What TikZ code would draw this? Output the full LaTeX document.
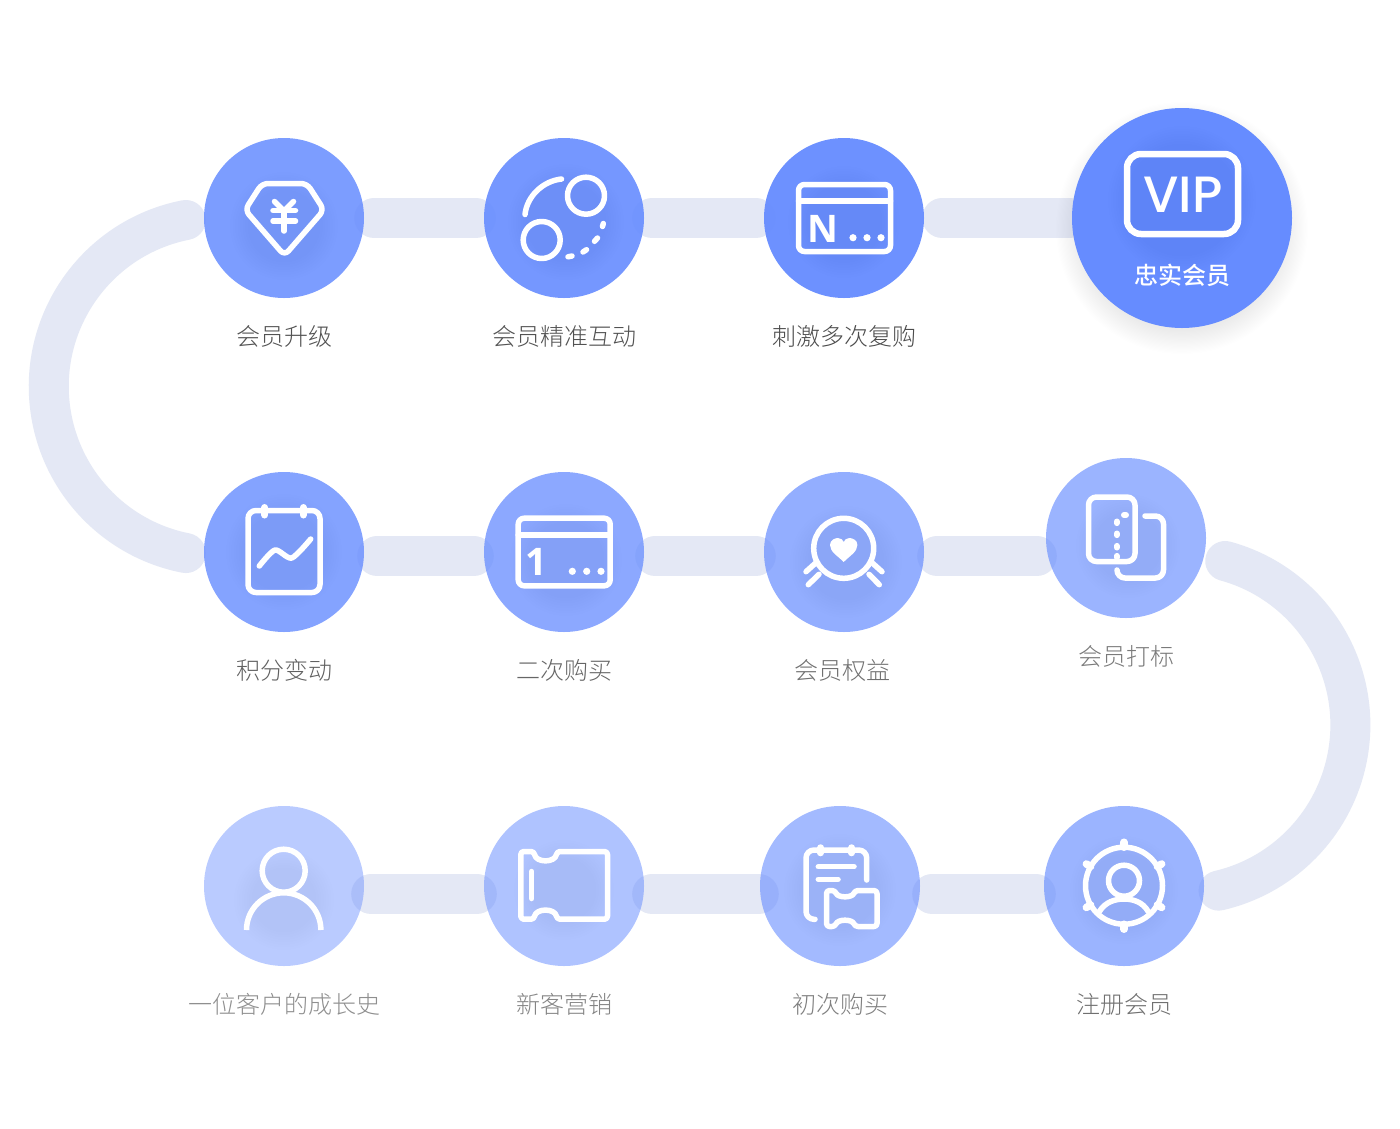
\documentclass[tikz,border=0pt]{standalone}
\usepackage{fontspec}
\usetikzlibrary{backgrounds,calc}
\newfontfamily\cjk[UprightFont={* Light},BoldFont={* Medium}]{Noto Sans CJK SC}
\newfontfamily\vipfont[UprightFont={* Medium}]{Poppins}
\newfontfamily\markfont[BoldFont={* Bold}]{Open Sans}
\definecolor{brandblue}{HTML}{668CFF}
\definecolor{trackgrey}{HTML}{E4E8F5}
\definecolor{softshadow}{HTML}{3A4470}
\tikzset{
  x=1pt,y=1pt,
  stage/.style={circle,fill=brandblue,minimum size=160pt,inner sep=0pt},
  trackline/.style={line width=40pt,draw=trackgrey,line cap=round},
  glyph/.style={draw=white,line width=5.5pt,line cap=round,line join=round},
  caption/.style={font=\cjk\fontsize{24}{28}\selectfont,inner sep=0pt},
  shade layer/.style={fill=brandblue!70!black,fill opacity=.0025,draw=none},
}
\newcommand{\iconshade}[3]{\foreach \k in {0,1,...,7}{\fill[shade layer] (#1,-#2) circle ({#3-\k*2.5});}}
\begin{document}
\begin{tikzpicture}
\useasboundingbox (0,0) rectangle (1400,-1128);
% stages
\node[stage,minimum size=220pt] (vip) at (1182,-218) {};
\node[stage,fill opacity=.95] (s10) at (844,-218) {};
\node[stage,fill opacity=.90] (s9) at (564,-218) {};
\node[stage,fill opacity=.85] (s8) at (284,-218) {};
\node[stage,fill opacity=.80] (s7) at (284,-552) {};
\node[stage,fill opacity=.75] (s6) at (564,-552) {};
\node[stage,fill opacity=.70] (s5) at (844,-552) {};
\node[stage,fill opacity=.65] (s4) at (1126,-538) {};
\node[stage,fill opacity=.65] (s3) at (1124,-886) {};
\node[stage,fill opacity=.60] (s2) at (840,-886) {};
\node[stage,fill opacity=.52] (s1) at (564,-886) {};
\node[stage,fill opacity=.45] (s0) at (284,-886) {};
% track behind
\begin{scope}[on background layer]
\fill[white] (0,0) rectangle (1400,-1128);
\draw[trackline] ([xshift=10pt]s8.east) -- ([xshift=-8pt]s9.west);
\draw[trackline] ([xshift=8pt]s9.east) -- ([xshift=-8pt]s10.west);
\draw[trackline] ([xshift=18pt]s10.east) -- ([xshift=-2pt]vip.west);
\draw[trackline] ([xshift=13pt,yshift=-4pt]s7.east) -- ([xshift=-10pt,yshift=-4pt]s6.west);
\draw[trackline] ([xshift=11pt,yshift=-4pt]s6.east) -- ([xshift=-8pt,yshift=-4pt]s5.west);
\draw[trackline] ([xshift=13pt,yshift=-4pt]s5.east) -- ([xshift=-9pt,yshift=-18pt]s4.west);
\draw[trackline] ([xshift=7pt,yshift=-8pt]s0.east) -- ([xshift=-7pt,yshift=-8pt]s1.west);
\draw[trackline] ([xshift=8pt,yshift=-8pt]s1.east) -- ([xshift=-1pt,yshift=-8pt]s2.west);
\draw[trackline] ([xshift=12pt,yshift=-8pt]s2.east) -- ([xshift=-8pt,yshift=-8pt]s3.west);
\draw[trackline] ([xshift=-18pt,yshift=-2pt]s8.west) arc[start angle=101.1,end angle=258.9,radius=169.7];
\draw[trackline] ([xshift=19pt,yshift=-23pt]s4.east) arc[start angle=74.7,end angle=-77,radius=170];
\foreach \k in {0,1,...,19}{\fill[fill=softshadow,fill opacity=.0035] (1182,-228) circle ({126-\k*1.2});}
\end{scope}
% faint shading behind icons
\iconshade{284}{226}{54}
\iconshade{566}{222}{58}
\iconshade{844}{222}{56}
\iconshade{1182}{200}{74}
\iconshade{284}{552}{58}
\iconshade{566}{560}{56}
\iconshade{846}{562}{56}
\iconshade{1128}{546}{52}
\iconshade{1124}{890}{54}
\iconshade{840}{890}{56}
\iconshade{564}{890}{50}
\iconshade{284}{900}{50}
% icon: diamond with yen
\draw[glyph,rounded corners=6pt] (262,-183.5) -- (307,-183.5) -- (324,-210) -- (284.5,-255.5) -- (245,-210) -- cycle;
\draw[glyph] (274.5,-201.5) -- (284,-211) -- (293.5,-201.5);
\draw[glyph] (273,-210.5) -- (295.5,-210.5);
\draw[glyph] (273,-221) -- (295.5,-221);
\draw[glyph] (284,-211) -- (284,-231);
% icon: two circles
\draw[glyph] (586,-195.7) circle (18.5);
\draw[glyph] (541.7,-240) circle (18.5);
\draw[glyph] (525,-214.5) .. controls (527,-196) and (543,-181) .. (561.5,-179);
\draw[glyph] (603.3,-223.5) -- (602.5,-226.5);
\draw[glyph] (597.5,-238) -- (594.5,-241.3);
\draw[glyph] (586.5,-249.7) -- (583,-252);
\draw[glyph] (572,-256) -- (568,-256.8);
% icon: window N
\draw[glyph,rounded corners=6pt] (798.5,-184.5) rectangle (890.5,-251.5);
\draw[glyph] (798.5,-201) -- (890.5,-201);
\node[font=\markfont\bfseries\fontsize{38}{38}\selectfont,text=white,inner sep=0pt] (wn) at (822.5,-229) {N};
\foreach \px in {853,867,881}{\fill[white] (\px,-237.7) circle (3.6);}
% icon: VIP
\draw[glyph,line width=6.5pt,rounded corners=14pt] (1127,-154) rectangle (1238,-234);
\node[font=\vipfont\fontsize{51}{51}\selectfont,text=white,inner sep=0pt] (viptxt) at (1183,-195) {VIP};
\node[caption,font=\cjk\bfseries\fontsize{24}{28}\selectfont,text=white] (vipcap) at (1182,-275) {忠实会员};
% icon: calendar chart
\draw[glyph,rounded corners=8pt] (248,-510.5) rectangle (320,-592.5);
\draw[glyph,line width=7pt] (264.7,-507.5) -- (264.7,-515);
\draw[glyph,line width=7pt] (303.3,-507.5) -- (303.3,-515);
\draw[glyph] plot[smooth,tension=.45] coordinates {(259.3,-566) (275,-550) (291.7,-558) (310.7,-539)};
% icon: window 1
\draw[glyph,rounded corners=6pt] (518.2,-518.2) rectangle (610.2,-585.8);
\draw[glyph] (518.2,-535) -- (610.2,-535);
\node[font=\markfont\bfseries\fontsize{38}{38}\selectfont,text=white,inner sep=0pt] (wo) at (536,-562) {1};
\foreach \px in {572.3,586.7,601}{\fill[white] (\px,-571.3) circle (3.6);}
% icon: heart badge
\draw[glyph] (843.7,-548.3) circle (30);
\fill[white] (843.7,-562) .. controls (838,-556) and (830,-552) .. (830,-545) .. controls (830,-540) and (835,-538) .. (838,-538) .. controls (841,-538) and (843,-540) .. (843.7,-542) .. controls (844.4,-540) and (846.4,-538) .. (849.4,-538) .. controls (852.4,-538) and (857.4,-540) .. (857.4,-545) .. controls (857.4,-552) and (849.4,-556) .. (843.7,-562) -- cycle;
\draw[glyph] (806,-571.7) -- (815.3,-563.3);
\draw[glyph] (808.3,-584.7) -- (819,-574.3);
\draw[glyph] (872.7,-563.3) -- (882,-571.7);
\draw[glyph] (869,-574.3) -- (879.3,-584.7);
% icon: tag cards
\draw[glyph,rounded corners=8pt] (1088.5,-497) rectangle (1135,-561.5);
\draw[glyph,rounded corners=8pt] (1145,-516) -- (1163.5,-516) -- (1163.5,-578) -- (1117,-578) -- (1117,-570);
\draw[glyph,line width=6pt] (1124,-515) -- (1126,-515);
\foreach \py in {522.3,534.3,546.7,556.7}{\draw[glyph,line width=6pt] (1116.7,-\py-.8) -- (1116.7,-\py+.8);}
% icon: member wheel
\draw[glyph] (1124,-885.7) circle (38.5);
\foreach \a in {90,30,-30,-90,210,150}{\draw[glyph,line width=7.5pt] ($(1124,-885.7)+(\a:38.5)$) -- ($(1124,-885.7)+(\a:43.5)$);}
\draw[glyph] (1124,-880.7) circle (15.5);
\draw[glyph] (1099.3,-911.7) .. controls (1105,-902) and (1115,-899) .. (1124,-899) .. controls (1133,-899) and (1143,-902) .. (1148.3,-911.7);
% icon: notepad ticket
\draw[glyph,rounded corners=8pt] (815,-919.3) -- (806,-919.3) -- (806,-850) -- (866.7,-850) -- (866.7,-880);
\draw[glyph,line width=6.5pt] (820.7,-847.5) -- (820.7,-853);
\draw[glyph,line width=6.5pt] (851.7,-847.5) -- (851.7,-853);
\draw[glyph] (818.3,-866.7) -- (854,-866.7);
\draw[glyph] (818.3,-879.3) -- (838,-879.3);
\draw[glyph,rounded corners=3pt] (826.5,-890.5) -- (835,-890.5) .. controls (838,-898) and (852,-898) .. (855,-890.5) -- (877,-890.5) -- (877,-926.5) -- (855,-926.5) .. controls (852,-919) and (838,-919) .. (835,-926.5) -- (826.5,-926.5) -- cycle;
% icon: ticket
\draw[glyph,rounded corners=3pt] (520.8,-851.5) -- (534,-851.5) .. controls (536,-863) and (555,-863) .. (557,-851.5) -- (607.5,-851.5) -- (607.5,-919.2) -- (557,-919.2) .. controls (555,-908) and (536,-908) .. (534,-919.2) -- (520.8,-919.2) -- cycle;
\draw[glyph] (531.7,-871.5) -- (531.7,-898.5);
% icon: person
\draw[glyph] (283.7,-870.7) circle (21.5);
\draw[glyph,line cap=butt] (246.5,-930) arc[start angle=180,end angle=0,radius=37.2];
% captions
\node[caption,text=black!68] (c8) at (284,-336) {会员升级};
\node[caption,text=black!68] (c9) at (564,-336) {会员精准互动};
\node[caption,text=black!70] (c10) at (844,-336) {刺激多次复购};
\node[caption,text=black!62] (c7) at (284,-670) {积分变动};
\node[caption,text=black!60] (c6) at (564,-670) {二次购买};
\node[caption,text=black!56] (c5) at (842,-670) {会员权益};
\node[caption,text=black!52] (c4) at (1126,-656) {会员打标};
\node[caption,text=black!56] (c3) at (1124,-1004) {注册会员};
\node[caption,text=black!50] (c2) at (840,-1004) {初次购买};
\node[caption,text=black!48] (c1) at (564,-1004) {新客营销};
\node[caption,text=black!44] (c0) at (284,-1004) {一位客户的成长史};
\end{tikzpicture}
\end{document}
